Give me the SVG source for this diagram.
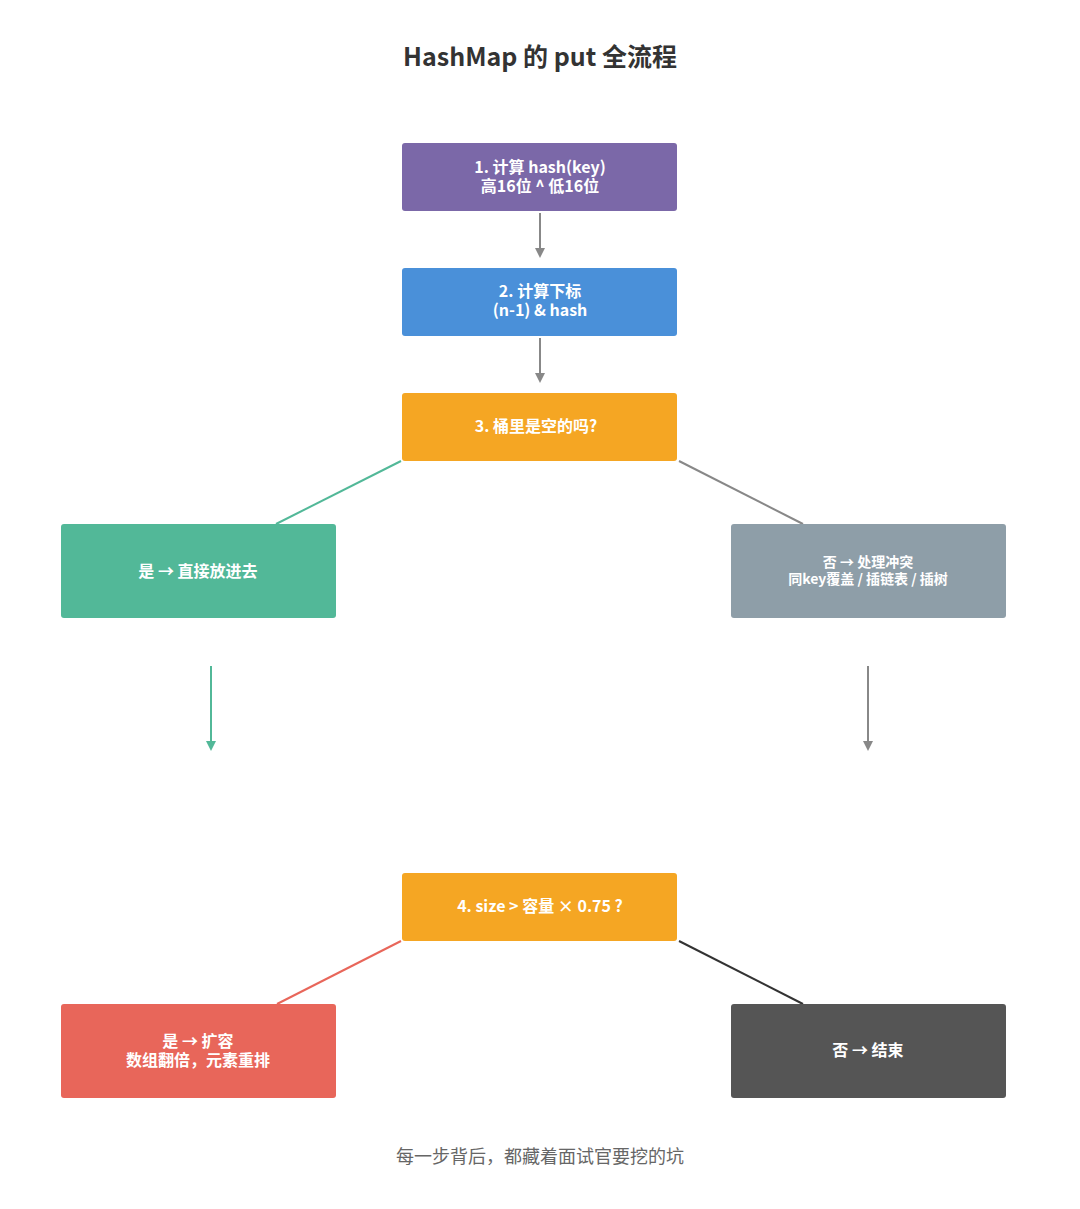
<svg xmlns="http://www.w3.org/2000/svg" width="1080" height="1209" viewBox="0 0 1080 1209">
<defs>
<style>
.t{font-family:"Noto Sans CJK SC","Noto Sans",sans-serif;font-weight:700;fill:#fff;text-anchor:middle;dominant-baseline:central}
.n{font-size:16px}
.s{font-size:14px}
.title{font-family:"Noto Sans CJK SC","Noto Sans",sans-serif;font-weight:700;font-size:25px;fill:#333;text-anchor:middle;dominant-baseline:central}
.cap{font-family:"Noto Sans CJK SC","Noto Sans",sans-serif;font-size:18px;fill:#666;text-anchor:middle;dominant-baseline:central}
.ln{fill:none;stroke-width:2}
</style>
<marker id="ag" markerWidth="10" markerHeight="10" refX="5" refY="5" orient="auto" markerUnits="userSpaceOnUse"><path d="M0,0 L10,5 L0,10 Z" fill="#888"/></marker>
<marker id="agr" markerWidth="10" markerHeight="10" refX="5" refY="5" orient="auto" markerUnits="userSpaceOnUse"><path d="M0,0 L10,5 L0,10 Z" fill="#52B898"/></marker>
</defs>
<rect width="1080" height="1209" fill="#fff"/>
<text class="title" x="540" y="55">HashMap 的 put 全流程</text>
<g id="connectors">
<line class="ln" x1="540" y1="213" x2="540" y2="253" stroke="#888" marker-end="url(#ag)"/>
<line class="ln" x1="540" y1="338" x2="540" y2="378" stroke="#888" marker-end="url(#ag)"/>
<line class="ln" x1="401" y1="461" x2="276" y2="524" stroke="#52B898"/>
<line class="ln" x1="679" y1="461" x2="803" y2="524" stroke="#888"/>
<line class="ln" x1="211" y1="666" x2="211" y2="746" stroke="#52B898" marker-end="url(#agr)"/>
<line class="ln" x1="868" y1="666" x2="868" y2="746" stroke="#888" marker-end="url(#ag)"/>
<line class="ln" x1="401" y1="941" x2="277" y2="1004" stroke="#E8665A"/>
<line class="ln" x1="679" y1="941" x2="803" y2="1004" stroke="#333"/>
</g>
<g id="n1"><rect x="402" y="143" width="275" height="68" rx="3" fill="#7B68A8"/><text class="t n" x="540" y="166">1. 计算 hash(key)</text><text class="t n" x="540" y="185">高16位 ^ 低16位</text></g>
<g id="n2"><rect x="402" y="268" width="275" height="68" rx="3" fill="#4A90D9"/><text class="t n" x="540" y="290">2. 计算下标</text><text class="t n" x="540" y="309">(n-1) &amp; hash</text></g>
<g id="n3"><rect x="402" y="393" width="275" height="68" rx="3" fill="#F5A623"/><text class="t n" x="536" y="425">3. 桶里是空的吗?</text></g>
<g id="yes1"><rect x="61" y="524" width="275" height="94" rx="3" fill="#52B898"/><text class="t n" x="198" y="570">是 → 直接放进去</text></g>
<g id="no1"><rect x="731" y="524" width="275" height="94" rx="3" fill="#8E9EA8"/><text class="t s" x="868" y="561">否 → 处理冲突</text><text class="t s" x="868" y="578">同key覆盖 / 插链表 / 插树</text></g>
<g id="n4"><rect x="402" y="873" width="275" height="68" rx="3" fill="#F5A623"/><text class="t n" x="540" y="905">4. size &gt; 容量 × 0.75 ?</text></g>
<g id="yes2"><rect x="61" y="1004" width="275" height="94" rx="3" fill="#E8665A"/><text class="t n" x="198" y="1040">是 → 扩容</text><text class="t n" x="198" y="1059">数组翻倍，元素重排</text></g>
<g id="no2"><rect x="731" y="1004" width="275" height="94" rx="3" fill="#555555"/><text class="t n" x="868" y="1049">否 → 结束</text></g>
<text class="cap" x="540" y="1155">每一步背后，都藏着面试官要挖的坑</text>
</svg>
